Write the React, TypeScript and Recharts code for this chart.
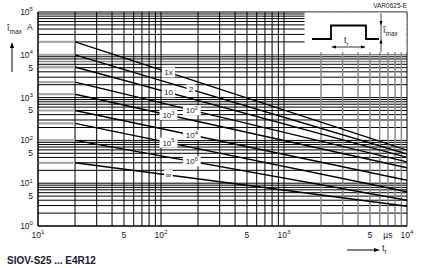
import React from 'react';
import { LineChart, Line, XAxis, YAxis, ReferenceLine, ReferenceDot } from 'recharts';

// pulse derating curves: flat up to the knee, then falling towards 10^4 µs
const curveLabels = ['1x', '2', '10', '10^2', '10^3', '10^4', '10^5', '10^6', '∞'];
const startCurrent = [20000, 10000, 5200, 2300, 1200, 500, 250, 100, 30];
const endCurrent = [59, 48, 40, 31.5, 23, 11.7, 6.3, 4.0, 2.9];
const labelTime = [115, 175, 115, 178, 115, 178, 115, 178, 115];

const startTime = 10;
const kneeTime = 20;
const endTime = 10000;

const xTickLabels: Record<number, string> = {
  10: '10^1', 50: '5', 100: '10^2', 500: '5', 1000: '10^3', 5000: '5', 7000: 'µs', 10000: '10^4',
};
const yTickLabels: Record<number, string> = {
  1: '10^0', 5: '5', 10: '10^1', 50: '5', 100: '10^2', 500: '5',
  1000: '10^3', 5000: '5', 10000: '10^4', 100000: '10^5',
};

const decades = (from: number, to: number) => {
  const out: number[] = [];
  for (let d = from; d < to; d *= 10) for (let k = 1; k < 10; k++) out.push(k * d);
  out.push(to);
  return out;
};
const xGrid = decades(10, 10000);
const yGrid = decades(1, 100000);

const INK = '#1c2033';
const FONT = '"Liberation Sans", Arial, sans-serif';

const Pow = ({ x, y, text, size, anchor }: any) => {
  const [base, exp] = text.split('^');
  return (
    <text x={x} y={y} fontSize={size} fontFamily={FONT} fill={INK} textAnchor={anchor}>
      {base}
      {exp && (
        <tspan dy={-size * 0.42} fontSize={size * 0.72}>
          {exp}
        </tspan>
      )}
    </text>
  );
};

const XTick = ({ x, y, payload }: any) => {
  const t = xTickLabels[payload.value];
  if (!t) return <g />;
  return <Pow x={x} y={y + 3.5} text={t} size={8.5} anchor="middle" />;
};

const YTick = ({ x, y, payload }: any) => {
  const t = yTickLabels[payload.value];
  if (!t) return <g />;
  return <Pow x={x} y={y + 3} text={t} size={8.5} anchor="end" />;
};

const CurveTag = ({ cx, cy, text }: any) => {
  const w = text.replace('^', '').length * 4.6 + 4;
  return (
    <g>
      <rect x={cx - w / 2} y={cy - 5} width={w} height={10} fill="#fff" />
      <Pow x={cx} y={cy + 3} text={text} size={8} anchor="middle" />
    </g>
  );
};

const Sub = ({ x, y, base, sub, size }: any) => (
  <text x={x} y={y} fontSize={size} fontFamily={FONT} fill={INK}>
    {base}
    <tspan dy={size * 0.3} fontSize={size * 0.72}>{sub}</tspan>
  </text>
);

const Annotations = () => (
  <svg width={424} height={268} style={{ position: 'absolute', left: 0, top: 0, pointerEvents: 'none' }}>
    {/* inset with pulse shape */}
    <rect x={304.5} y={12.6} width={102} height={39.6} fill="#fff" />
    <polyline points="312,39 331,39 331,25.5 366,25.5 366,39 379,39" fill="none" stroke="#000" strokeWidth={1.8} />
    <line x1={333} y1={47} x2={364} y2={47} stroke="#000" strokeWidth={0.8} />
    <polygon points="331,47 336,45.5 336,48.5" fill="#000" />
    <polygon points="366,47 361,45.5 361,48.5" fill="#000" />
    <Sub x={344} y={43} base="t" sub="r" size={8.5} />
    <line x1={381} y1={13} x2={381} y2={52} stroke="#000" strokeWidth={0.7} />
    <polygon points="381,25.5 379.5,21 382.5,21" fill="#000" />
    <polygon points="381,39 379.5,43.5 382.5,43.5" fill="#000" />
    <Sub x={383} y={33} base="î" sub="max" size={9} />
    <text x={407} y={8} fontSize={6.5} fontFamily={FONT} fill={INK} textAnchor="end">VAR0625-E</text>

    {/* y axis title */}
    <Sub x={7} y={31} base="î" sub="max" size={9} />
    <text x={27} y={30} fontSize={8.5} fontFamily={FONT} fill={INK}>A</text>
    <line x1={12} y1={72} x2={12} y2={47} stroke="#000" strokeWidth={1} />
    <polygon points="12,42 10,48 14,48" fill="#000" />

    {/* x axis title */}
    <line x1={347} y1={250} x2={375} y2={250} stroke="#000" strokeWidth={1} />
    <polygon points="380,250 374,248 374,252" fill="#000" />
    <Sub x={382} y={251} base="t" sub="r" size={9} />

    <text x={7} y={264} fontSize={10} fontWeight="bold" fontFamily={FONT} fill={INK}>SIOV-S25 ... E4R12</text>
  </svg>
);

const App = () => {
  return (
    <div style={{ position: 'absolute', left: 0, top: 0, width: 424, height: 268, background: '#fff' }}>
      <LineChart width={424} height={268} margin={{ top: 12, right: 17, left: 8, bottom: 22 }}>
        <XAxis
          dataKey="t"
          type="number"
          scale="log"
          domain={[startTime, endTime]}
          allowDataOverflow
          ticks={xGrid}
          interval={0}
          tick={<XTick />}
          tickLine={false}
          axisLine={{ stroke: '#000' }}
          height={20}
        />
        <YAxis
          dataKey="v"
          type="number"
          scale="log"
          domain={[1, 100000]}
          allowDataOverflow
          ticks={yGrid}
          interval={0}
          tick={<YTick />}
          tickLine={false}
          tickSize={3}
          axisLine={{ stroke: '#000' }}
          width={30}
        />
        {yGrid.map((v) => (
          <ReferenceLine
            key={'h' + v}
            y={v}
            ifOverflow="visible"
            stroke={v === 10000 || v === 7000 ? '#8a8a8a' : '#000'}
            strokeWidth={v === 10000 || v === 7000 ? 1.5 : 1}
          />
        ))}
        {xGrid.map((t) => (
          <ReferenceLine
            key={'v' + t}
            x={t}
            ifOverflow="visible"
            stroke={t >= 2000 && t < 10000 ? '#8a8a8a' : '#000'}
            strokeWidth={t >= 2000 && t < 10000 ? 1.5 : 1}
          />
        ))}
        {startCurrent.map((s, i) => (
          <Line
            key={'f' + i}
            data={[{ t: startTime, v: s }, { t: kneeTime, v: s }]}
            dataKey="v"
            type="linear"
            stroke="#a9a9a9"
            strokeWidth={2.2}
            dot={false}
            isAnimationActive={false}
          />
        ))}
        {startCurrent.map((s, i) => (
          <Line
            key={'c' + i}
            data={[{ t: kneeTime, v: s }, { t: endTime, v: endCurrent[i] }]}
            dataKey="v"
            type="linear"
            stroke="#000"
            strokeWidth={1.4}
            dot={false}
            isAnimationActive={false}
          />
        ))}
        {curveLabels.map((lbl, i) => {
          const slope = Math.log(endCurrent[i] / startCurrent[i]) / Math.log(endTime / kneeTime);
          const v = startCurrent[i] * Math.pow(labelTime[i] / kneeTime, slope);
          return (
            <ReferenceDot
              key={'l' + i}
              x={labelTime[i]}
              y={v}
              r={0}
              ifOverflow="visible"
              shape={(p: any) => <CurveTag cx={p.cx} cy={p.cy} text={lbl} />}
            />
          );
        })}
      </LineChart>
      <Annotations />
    </div>
  );
};

export default App;
